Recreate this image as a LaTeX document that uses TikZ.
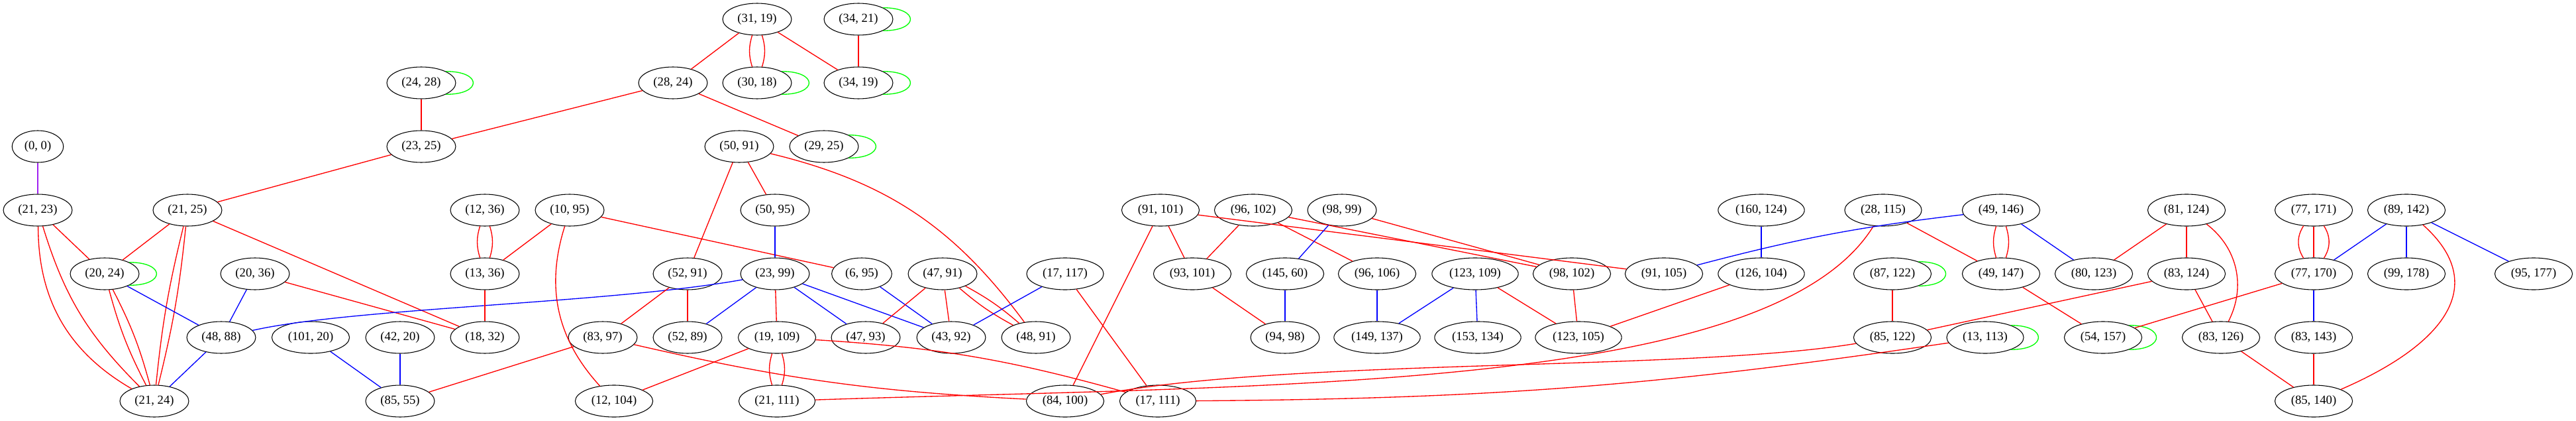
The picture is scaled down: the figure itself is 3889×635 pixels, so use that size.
\documentclass[tikz,border=0pt]{standalone}
\usepackage{fontspec}
\setmainfont{Liberation Serif}
\usepackage{xcolor}
\definecolor{gvred}{RGB}{255, 0, 0}
\definecolor{gvblue}{RGB}{0, 0, 255}
\definecolor{gvgreen}{RGB}{0, 255, 0}
\definecolor{gvpurple}{RGB}{160, 32, 240}
\usepackage{tikz}
\usetikzlibrary{shapes.geometric}

\begin{document}
\begin{tikzpicture}[
    x=0.75pt, y=-0.75pt,
    vert/.style={draw=black, ellipse, line width=0.8pt, inner xsep=5.4pt, inner ysep=1pt, minimum height=36pt, font=\fontsize{14pt}{16pt}\selectfont},
    redge/.style={draw=gvred, line width=1pt},
    bedge/.style={draw=gvblue, line width=1pt},
    pedge/.style={draw=gvpurple, line width=1pt},
    selfloop/.style={draw=gvgreen, line width=1pt}
]
\useasboundingbox (0, 0) rectangle (3889, 635);

% ==================== NODES ====================
\node[vert] (v31_19) at (1143, 29) {(31, 19)};
\node[vert] (v34_21) at (1296, 29) {(34, 21)};

\node[vert] (v24_28) at (636, 125) {(24, 28)};
\node[vert] (v28_24) at (1016, 125) {(28, 24)};
\node[vert] (v30_18) at (1143, 125) {(30, 18)};
\node[vert] (v34_19) at (1296, 125) {(34, 19)};

\node[vert] (v0_0) at (57, 221) {(0, 0)};
\node[vert] (v23_25) at (636, 221) {(23, 25)};
\node[vert] (v50_91) at (1116, 221) {(50, 91)};
\node[vert] (v29_25) at (1244, 221) {(29, 25)};

\node[vert] (v21_23) at (57, 317) {(21, 23)};
\node[vert] (v21_25) at (283, 317) {(21, 25)};
\node[vert] (v12_36) at (732, 317) {(12, 36)};
\node[vert] (v10_95) at (860, 317) {(10, 95)};
\node[vert] (v50_95) at (1170, 317) {(50, 95)};
\node[vert] (v91_101) at (1752, 317) {(91, 101)};
\node[vert] (v96_102) at (1892, 317) {(96, 102)};
\node[vert] (v98_99) at (2026, 317) {(98, 99)};
\node[vert] (v160_124) at (2659, 317) {(160, 124)};
\node[vert] (v28_115) at (2843, 317) {(28, 115)};
\node[vert] (v49_146) at (3021, 317) {(49, 146)};
\node[vert] (v81_124) at (3301, 317) {(81, 124)};
\node[vert] (v77_171) at (3493, 317) {(77, 171)};
\node[vert] (v89_142) at (3633, 317) {(89, 142)};

\node[vert] (v20_24) at (158, 413) {(20, 24)};
\node[vert] (v20_36) at (385, 413) {(20, 36)};
\node[vert] (v13_36) at (732, 413) {(13, 36)};
\node[vert] (v52_91) at (1038, 413) {(52, 91)};
\node[vert] (v23_99) at (1170, 413) {(23, 99)};
\node[vert] (v6_95) at (1301, 413) {(6, 95)};
\node[vert] (v47_91) at (1423, 413) {(47, 91)};
\node[vert] (v17_117) at (1608, 413) {(17, 117)};
\node[vert] (v93_101) at (1800, 413) {(93, 101)};
\node[vert] (v145_60) at (1940, 413) {(145, 60)};
\node[vert] (v96_106) at (2079, 413) {(96, 106)};
\node[vert] (v123_109) at (2227, 413) {(123, 109)};
\node[vert] (v98_102) at (2373, 413) {(98, 102)};
\node[vert] (v91_105) at (2512, 413) {(91, 105)};
\node[vert] (v126_104) at (2659, 413) {(126, 104)};
\node[vert] (v87_122) at (2857, 413) {(87, 122)};
\node[vert] (v49_147) at (3021, 413) {(49, 147)};
\node[vert] (v80_123) at (3161, 413) {(80, 123)};
\node[vert] (v83_124) at (3301, 413) {(83, 124)};
\node[vert] (v77_170) at (3493, 413) {(77, 170)};
\node[vert] (v99_178) at (3633, 413) {(99, 178)};
\node[vert] (v95_177) at (3825, 413) {(95, 177)};

\node[vert] (v48_88) at (334, 509) {(48, 88)};
\node[vert] (v101_20) at (469, 509) {(101, 20)};
\node[vert] (v42_20) at (604, 509) {(42, 20)};
\node[vert] (v18_32) at (732, 509) {(18, 32)};
\node[vert] (v83_97) at (910, 509) {(83, 97)};
\node[vert] (v52_89) at (1038, 509) {(52, 89)};
\node[vert] (v19_109) at (1173, 509) {(19, 109)};
\node[vert] (v47_93) at (1307, 509) {(47, 93)};
\node[vert] (v43_92) at (1436, 509) {(43, 92)};
\node[vert] (v48_91) at (1564, 509) {(48, 91)};
\node[vert] (v94_98) at (1940, 509) {(94, 98)};
\node[vert] (v149_137) at (2079, 509) {(149, 137)};
\node[vert] (v153_134) at (2231, 509) {(153, 134)};
\node[vert] (v123_105) at (2383, 509) {(123, 105)};
\node[vert] (v85_122) at (2857, 509) {(85, 122)};
\node[vert] (v13_113) at (2997, 509) {(13, 113)};
\node[vert] (v54_157) at (3175, 509) {(54, 157)};
\node[vert] (v83_126) at (3353, 509) {(83, 126)};
\node[vert] (v83_143) at (3493, 509) {(83, 143)};

\node[vert] (v21_24) at (233, 605) {(21, 24)};
\node[vert] (v85_55) at (604, 605) {(85, 55)};
\node[vert] (v12_104) at (927, 605) {(12, 104)};
\node[vert] (v21_111) at (1173, 605) {(21, 111)};
\node[vert] (v84_100) at (1608, 605) {(84, 100)};
\node[vert] (v17_111) at (1748, 605) {(17, 111)};
\node[vert] (v85_140) at (3493, 605) {(85, 140)};

% ==================== SELF LOOPS ====================
\foreach \n in {v34_21, v34_19, v30_18, v24_28, v29_25, v20_24, v87_122, v13_113, v54_157}
    \draw[selfloop] (\n.25) .. controls +(55, 0) and +(55, 0) .. (\n.-25);

% ==================== TOP ====================
\draw[redge] (v31_19) -- (v28_24);
\draw[redge] (v31_19) to[bend left=17] (v30_18);
\draw[redge] (v31_19) to[bend right=17] (v30_18);
\draw[redge] (v31_19) -- (v34_19);
\draw[redge] (v34_21) -- (v34_19);
\draw[redge] (v24_28) -- (v23_25);
\draw[redge] (v28_24) -- (v23_25);
\draw[redge] (v28_24) -- (v29_25);
\draw[redge] (v23_25) -- (v21_25);

% ==================== LEFT ====================
\draw[pedge] (v0_0) -- (v21_23);
\draw[redge] (v21_23) -- (v20_24);
\draw[redge] (v21_23) to[bend right=30] (v21_24);
\draw[redge] (v21_23) to[bend right=14] (v21_24);
\draw[redge] (v21_25) -- (v20_24);
\draw[redge] (v21_25) to[bend left=4] (v21_24);
\draw[redge] (v21_25) to[bend right=4] (v21_24);
\draw[redge] (v21_25) -- (v18_32);
\draw[redge] (v20_24) to[bend left=6] (v21_24);
\draw[redge] (v20_24) to[bend right=6] (v21_24);
\draw[bedge] (v20_24) -- (v48_88);
\draw[bedge] (v20_36) -- (v48_88);
\draw[redge] (v20_36) -- (v18_32);
\draw[bedge] (v48_88) -- (v21_24);
\draw[bedge] (v48_88) .. controls +(200, -45) and +(-250, 45) .. (v23_99);
\draw[bedge] (v101_20) -- (v85_55);
\draw[bedge] (v42_20) -- (v85_55);
\draw[redge] (v83_97) -- (v85_55);

% ==================== MIDDLE ====================
\draw[redge] (v12_36) to[bend left=17] (v13_36);
\draw[redge] (v12_36) to[bend right=17] (v13_36);
\draw[redge] (v10_95) -- (v13_36);
\draw[redge] (v10_95) to[bend right=30] (v12_104);
\draw[redge] (v10_95) -- (v6_95);
\draw[redge] (v13_36) -- (v18_32);
\draw[redge] (v50_91) -- (v52_91);
\draw[redge] (v50_91) -- (v50_95);
\draw[redge] (v50_91) to[bend left=20] (v48_91);
\draw[bedge] (v50_95) -- (v23_99);
\draw[redge] (v52_91) -- (v83_97);
\draw[redge] (v52_91) -- (v52_89);
\draw[bedge] (v23_99) -- (v52_89);
\draw[redge] (v23_99) -- (v19_109);
\draw[bedge] (v23_99) -- (v47_93);
\draw[bedge] (v23_99) -- (v43_92);
\draw[bedge] (v6_95) -- (v43_92);
\draw[redge] (v47_91) -- (v47_93);
\draw[redge] (v47_91) -- (v43_92);
\draw[redge] (v47_91) to[bend left=6] (v48_91);
\draw[redge] (v47_91) to[bend right=6] (v48_91);
\draw[bedge] (v17_117) -- (v43_92);
\draw[redge] (v17_117) -- (v17_111);
\draw[redge] (v83_97) to[bend right=5] (v84_100);
\draw[redge] (v19_109) -- (v12_104);
\draw[redge] (v19_109) to[bend left=17] (v21_111);
\draw[redge] (v19_109) to[bend right=17] (v21_111);
\draw[redge] (v19_109) to[bend left=6] (v17_111);
\draw[redge] (v21_111) .. controls +(757, -25) and +(-168, 274) .. (v28_115);

% ==================== CENTRE RIGHT ====================
\draw[redge] (v91_101) -- (v93_101);
\draw[redge] (v91_101) -- (v84_100);
\draw[redge] (v91_101) -- (v91_105);
\draw[redge] (v96_102) -- (v93_101);
\draw[redge] (v96_102) -- (v96_106);
\draw[redge] (v96_102) -- (v98_102);
\draw[bedge] (v98_99) -- (v145_60);
\draw[redge] (v98_99) -- (v98_102);
\draw[redge] (v93_101) -- (v94_98);
\draw[bedge] (v145_60) -- (v94_98);
\draw[bedge] (v96_106) -- (v149_137);
\draw[bedge] (v123_109) -- (v149_137);
\draw[bedge] (v123_109) -- (v153_134);
\draw[redge] (v123_109) -- (v123_105);
\draw[redge] (v98_102) -- (v123_105);
\draw[redge] (v126_104) -- (v123_105);
\draw[bedge] (v160_124) -- (v126_104);
\draw[redge] (v84_100) .. controls +(342, -65) and +(-307, 51) .. (v85_122);
\draw[redge] (v17_111) to[bend right=4] (v13_113);

% ==================== RIGHT ====================
\draw[bedge] (v49_146) to[bend right=4] (v91_105);
\draw[redge] (v28_115) -- (v49_147);
\draw[redge] (v49_146) to[bend left=17] (v49_147);
\draw[redge] (v49_146) to[bend right=17] (v49_147);
\draw[bedge] (v49_146) -- (v80_123);
\draw[redge] (v81_124) -- (v80_123);
\draw[redge] (v81_124) -- (v83_124);
\draw[redge] (v81_124) to[bend left=40] (v83_126);
\draw[redge] (v87_122) -- (v85_122);
\draw[redge] (v49_147) -- (v54_157);
\draw[redge] (v83_124) -- (v85_122);
\draw[redge] (v83_124) -- (v83_126);
\draw[redge] (v77_170) -- (v54_157);
\draw[redge] (v77_171) -- (v77_170);
\draw[redge] (v77_171) to[bend left=33] (v77_170);
\draw[redge] (v77_171) to[bend right=33] (v77_170);
\draw[bedge] (v89_142) -- (v77_170);
\draw[bedge] (v89_142) -- (v99_178);
\draw[bedge] (v89_142) -- (v95_177);
\draw[redge] (v89_142) .. controls +(127, 113) and +(197, -85) .. (v85_140);
\draw[bedge] (v77_170) -- (v83_143);
\draw[redge] (v83_126) -- (v85_140);
\draw[redge] (v83_143) -- (v85_140);

\end{tikzpicture}
\end{document}
